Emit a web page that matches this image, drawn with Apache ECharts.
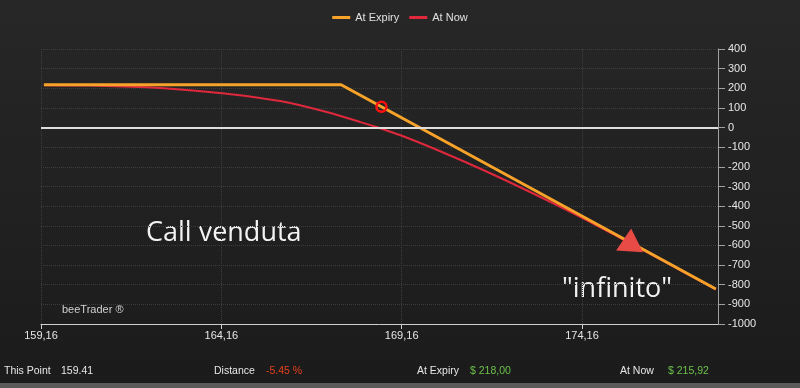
<!DOCTYPE html>
<html>
<head>
<meta charset="utf-8">
<script src="https://cdn.jsdelivr.net/npm/echarts@6/dist/echarts.min.js"></script>
<style>
html,body{margin:0;padding:0;background:#1e1e1e;}
#c{width:800px;height:388px;}
</style>
</head>
<body>
<div id="c"></div>
<script>
// ---- data ----
var seriesNames = ['At Expiry', 'At Now'];
var xTicks = [159.16, 164.16, 169.16, 174.16];
var atExpiry = [[159.24, 218], [167.48, 218], [177.87, -822]];
var atNow = [[159.24, 216], [160.5, 214], [161.9, 206], [162.83, 196], [163.75, 182], [164.68, 164],
  [165.23, 151], [165.79, 135], [166.34, 114], [167.08, 79], [168.0, 29], [168.5, 0], [169.11, -38],
  [170.13, -113], [171.42, -216], [172.72, -328], [174.0, -444], [175.21, -561], [176.5, -688], [177.87, -824]];
var hoverPoint = [168.6, 106];
var arrowPoint = [175.5, -572];
var infoLabels = ['This Point', 'Distance', 'At Expiry', 'At Now'];
var infoValues = ['159.41', '-5.45 %', '$ 218,00', '$ 215,92'];
var annotations = ['Call venduta', '"infinito"', 'beeTrader \u00ae'];

var chart = echarts.init(document.getElementById('c'), null, {renderer: 'canvas'});
var lblFont = '"Liberation Sans", Arial, sans-serif';
var infoX = [[4, 61], [214, 266], [417, 470], [620, 668]];
var infoColors = ['#e6e6e6', '#e8401c', '#6cc04a', '#6cc04a'];
var graphics = [
  {type: 'rect', left: 0, top: 383, shape: {width: 800, height: 5}, style: {fill: '#5a5a5a'}, silent: true},
  {type: 'text', left: 146, top: 220, style: {text: annotations[0], fill: '#f2f2f2', font: '27px "Open Sans", sans-serif'}},
  {type: 'text', left: 562, top: 276, style: {text: annotations[1], fill: '#f2f2f2', font: '27px "Open Sans", sans-serif'}},
  {type: 'text', left: 62, top: 304, style: {text: annotations[2], fill: '#d0d0d0', font: '11px ' + lblFont}}
];
for (var i = 0; i < infoLabels.length; i++) {
  graphics.push({type: 'text', left: infoX[i][0], top: 366, style: {text: infoLabels[i], fill: '#e6e6e6', font: '10.5px ' + lblFont}});
  graphics.push({type: 'text', left: infoX[i][1], top: 366, style: {text: infoValues[i], fill: infoColors[i], font: '10.5px ' + lblFont}});
}

chart.setOption({
  animation: false,
  backgroundColor: {type: 'linear', x: 0, y: 0, x2: 0, y2: 1, colorStops: [{offset: 0, color: '#272727'}, {offset: 1, color: '#1b1b1b'}]},
  legend: {
    top: 7, left: 'center', itemWidth: 18, itemHeight: 3, itemGap: 10, icon: 'rect',
    textStyle: {color: '#e0e0e0', fontSize: 11, fontFamily: lblFont},
    data: seriesNames
  },
  grid: {left: 41, right: 82, top: 49, bottom: 64},
  xAxis: {
    type: 'value', min: 159.16, max: 177.93,
    axisLine: {show: true, onZero: false, lineStyle: {color: '#cfcfcf', width: 1}},
    axisTick: {show: true, length: 5, lineStyle: {color: '#cfcfcf'}, customValues: xTicks},
    axisLabel: {color: '#e6e6e6', fontSize: 11, fontFamily: lblFont, margin: 6, customValues: xTicks,
      formatter: function (v) { return v.toFixed(2).replace('.', ','); }},
    splitLine: {show: true, lineStyle: {color: '#3d3d3d', type: 'dotted', width: 1}}
  },
  yAxis: {
    type: 'value', position: 'right', min: -1000, max: 400, interval: 100,
    axisLine: {show: true, lineStyle: {color: '#a0a0a0', width: 1}},
    axisTick: {show: true, length: 7, lineStyle: {color: '#a0a0a0'}},
    axisLabel: {color: '#e6e6e6', fontSize: 11, fontFamily: lblFont, margin: 10,
      formatter: function (v) { return String(v); }},
    splitLine: {show: true, lineStyle: {color: '#3d3d3d', type: 'dotted', width: 1}}
  },
  graphic: graphics,
  series: [
    {
      name: seriesNames[0], type: 'line', data: atExpiry, showSymbol: false, z: 4,
      itemStyle: {color: '#f7a32a'}, lineStyle: {color: '#f7a32a', width: 3},
      markLine: {
        silent: true, symbol: 'none', label: {show: false},
        lineStyle: {color: '#dedede', width: 2, type: 'solid'},
        data: [{yAxis: 0}]
      },
      markPoint: {
        silent: true,
        data: [
          {coord: hoverPoint, symbol: 'circle', symbolSize: 10, itemStyle: {color: 'rgba(0,0,0,0)', borderColor: '#ff1010', borderWidth: 2.5}, label: {show: false}},
          {coord: arrowPoint, symbol: 'triangle', symbolSize: [27, 23], symbolRotate: -4, itemStyle: {color: '#e84a45'}, label: {show: false}}
        ]
      }
    },
    {
      name: seriesNames[1], type: 'line', data: atNow, showSymbol: false, smooth: 0.3, z: 3,
      itemStyle: {color: '#e0283c'}, lineStyle: {color: '#e0283c', width: 2}
    }
  ]
});
</script>
</body>
</html>
